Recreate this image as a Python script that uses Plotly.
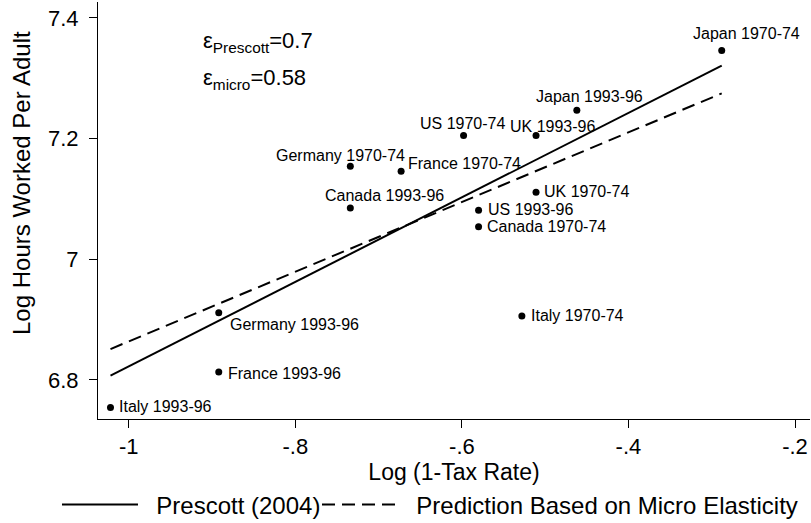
import plotly.graph_objects as go

# ---- data ----
labels = ["Japan 1970-74", "Japan 1993-96", "UK 1993-96", "US 1970-74",
          "Germany 1970-74", "France 1970-74", "Canada 1993-96", "UK 1970-74",
          "US 1993-96", "Canada 1970-74", "Italy 1970-74", "Germany 1993-96",
          "France 1993-96", "Italy 1993-96"]
log_net_tax = [-0.288, -0.462, -0.511, -0.598,
               -0.734, -0.673, -0.734, -0.511,
               -0.580, -0.580, -0.528, -0.892,
               -0.892, -1.022]
log_hours = [7.346, 7.247, 7.205, 7.205,
             7.154, 7.146, 7.085, 7.111,
             7.081, 7.054, 6.906, 6.911,
             6.813, 6.754]

line_x = [-1.022, -0.288]
prescott_y = [6.807, 7.321]
micro_y = [6.851, 7.275]

x_tickvals = [-1, -0.8, -0.6, -0.4, -0.2]
x_ticktext = ["-1", "-.8", "-.6", "-.4", "-.2"]
y_tickvals = [6.8, 7.0, 7.2, 7.4]
y_ticktext = ["6.8", "7", "7.2", "7.4"]

# ---- label placement style (pixel offsets) ----
label_anchor = ["center", "center", "center", "center",
                "center", "left", "center", "left",
                "left", "left", "left", "left",
                "left", "left"]
label_dx = [25, 13, 16, -1, -10, 5, 34, 6, 7, 6, 7, 9, 7, 7]
label_dy = [17, 14, 9, 12, 11, 8, 12, 1, 1, 0, 0, -12, -2, 1]

FONT = "Liberation Sans, Arial, Helvetica, sans-serif"
NBSP = "\u00a0"

fig = go.Figure()

fig.add_trace(go.Scatter(
    x=line_x, y=prescott_y, mode="lines", name=NBSP * 2 + "Prescott (2004)",
    legendwidth=169,
    line=dict(color="black", width=2)))
fig.add_trace(go.Scatter(
    x=line_x, y=micro_y, mode="lines",
    name=NBSP * 2 + "Prediction Based on Micro Elasticity",
    line=dict(color="black", width=2, dash="13px,7px")))
fig.add_trace(go.Scatter(
    x=log_net_tax, y=log_hours, mode="markers", showlegend=False,
    marker=dict(color="black", size=7), hoverinfo="text", text=labels))

for xi, yi, lab, anc, dx, dy in zip(log_net_tax, log_hours, labels,
                                    label_anchor, label_dx, label_dy):
    fig.add_annotation(x=xi, y=yi, xref="x", yref="y", text=lab,
                       showarrow=False, xanchor=anc, yanchor="middle",
                       xshift=dx, yshift=dy,
                       font=dict(family=FONT, size=16, color="black"))

fig.add_annotation(x=0.1447, y=0.905, xref="paper", yref="paper",
                   text="ε<sub>Prescott</sub>=0.7", showarrow=False,
                   xanchor="left", yanchor="middle",
                   font=dict(family=FONT, size=22, color="black"))
fig.add_annotation(x=0.1447, y=0.815, xref="paper", yref="paper",
                   text="ε<sub>micro</sub>=0.58", showarrow=False,
                   xanchor="left", yanchor="middle",
                   font=dict(family=FONT, size=22, color="black"))

# y-axis title placed as a rotated text beside the axis
fig.add_annotation(x=-0.1067, y=0.566, xref="paper", yref="paper",
                   text="Log Hours Worked Per Adult", showarrow=False,
                   textangle=-90, xanchor="center", yanchor="middle",
                   font=dict(family=FONT, size=24, color="black"))

fig.update_layout(
    width=811, height=523,
    margin=dict(l=98, r=1, t=2, b=104, autoexpand=False),
    paper_bgcolor="white", plot_bgcolor="white",
    font=dict(family=FONT, color="black", size=22),
    showlegend=True,
    legend=dict(orientation="h", x=-0.0576, y=-0.206, xanchor="left",
                yanchor="middle", font=dict(size=24, family=FONT),
                itemwidth=76, tracegroupgap=0, bgcolor="rgba(0,0,0,0)"),
    xaxis=dict(range=[-1.037, -0.182], tickvals=x_tickvals,
               ticktext=x_ticktext, ticks="outside", ticklen=8,
               tickcolor="black", showline=True, linecolor="black",
               linewidth=1, showgrid=False, zeroline=False,
               ticklabelstandoff=0, automargin=False,
               tickfont=dict(size=22, family=FONT),
               title=dict(text="Log (1-Tax Rate)", standoff=0,
                          font=dict(size=23, family=FONT))),
    yaxis=dict(range=[6.735, 7.4265], tickvals=y_tickvals,
               ticktext=y_ticktext, ticks="outside", ticklen=8,
               tickcolor="black", showline=True, linecolor="black",
               linewidth=1, showgrid=False, zeroline=False,
               ticklabelstandoff=6, automargin=False,
               tickfont=dict(size=22, family=FONT)),
)

fig.write_html("out.html",
               config={"displayModeBar": False},
               post_script="document.body.style.margin='0';")
